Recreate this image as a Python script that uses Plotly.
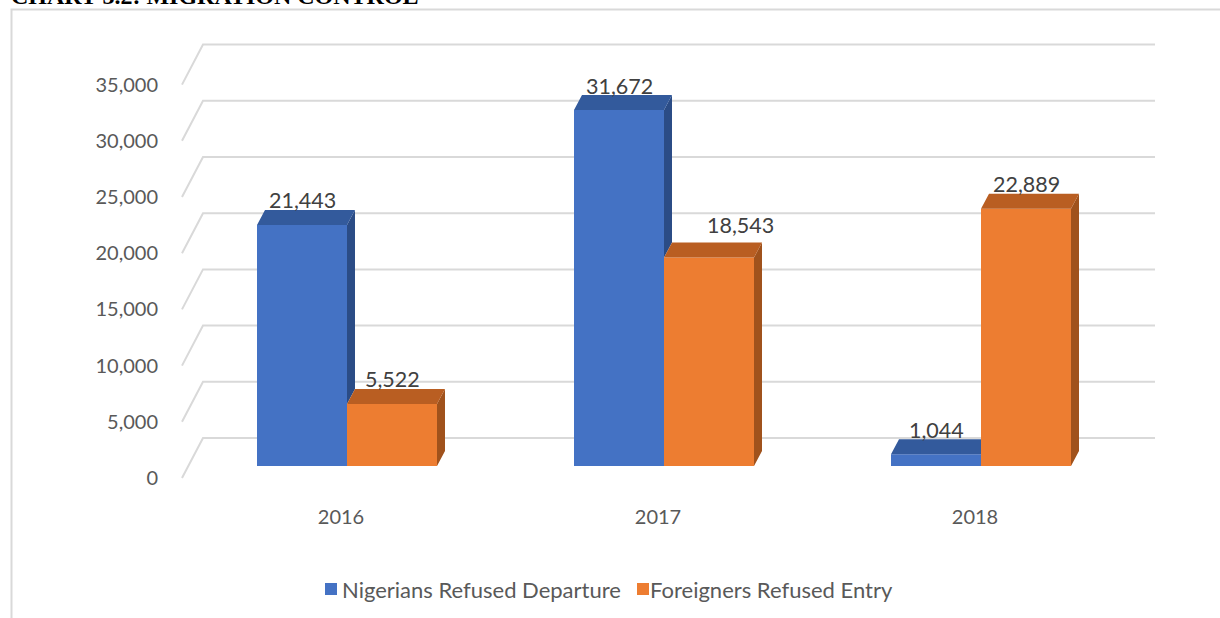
import plotly.graph_objects as go

# ---------------- data ----------------
CATEGORIES = ["2016", "2017", "2018"]
SERIES_NAMES = ["Nigerians Refused Departure", "Foreigners Refused Entry"]
NIGERIANS_REFUSED_DEPARTURE = [21443, 31672, 1044]
FOREIGNERS_REFUSED_ENTRY = [5522, 18543, 22889]
Y_TICKS = [0, 5000, 10000, 15000, 20000, 25000, 30000, 35000]
Y_TICK_LABELS = ["0", "5,000", "10,000", "15,000", "20,000", "25,000", "30,000", "35,000"]
TITLE = "CHART 3.2: MIGRATION CONTROL"

# ---------------- style / geometry ----------------
W, H = 1220, 618
ML, MR, MT, MB = 165, 55, 30, 128
PLOT_W = W - ML - MR
PLOT_H = H - MT - MB
PX_PER_CAT = 317.0            # pixels per category step
PX_PER_UNIT = 56.2 / 5000.0   # pixels per value unit
CAT0_PX = 347.0               # pixel x of first category centre (absolute)
ZERO_PX = 466.0               # pixel y of value 0 on the bar plane (absolute)

def ux(px):
    return px / PX_PER_CAT

def uy(px):
    return px / PX_PER_UNIT

BAR_W = ux(90)
DEPTH_X = ux(8)
DEPTH_Y = uy(15)
BACK_DY = uy(28)     # back wall offset above bar plane
FRONT_DY = uy(12)    # front floor edge offset below bar plane
GRID_LEFT_BACK = ux(203 - CAT0_PX)
GRID_LEFT_FRONT = ux(182 - CAT0_PX)
GRID_RIGHT = ux(1155 - CAT0_PX)
XTICK_SHIFT = ux(6)

COLORS = {
    "front": ["#4472C4", "#ED7D31"],
    "top": ["#335A9C", "#B95E22"],
    "side": ["#2B4C86", "#A0521C"],
}
GRID_COLOR = "#D9D9D9"
AXIS_FONT = dict(family="Lato", size=20, color="#595959")
LABEL_FONT = dict(family="Lato", size=21.5, color="#404040")
LEGEND_FONT = dict(family="Lato", size=22, color="#595959")
LEGEND_SWATCH_X = [325, 637]   # px, left edge of each legend square
LEGEND_TEXT_X = [340, 648]     # px, left edge of each legend text box
LEGEND_Y = 589                 # px, centre line of legend row
SWATCH = 12

X_RANGE = [ux(ML - CAT0_PX), ux(ML + PLOT_W - CAT0_PX)]
Y_RANGE = [-uy(MT + PLOT_H - ZERO_PX), uy(ZERO_PX - MT)]

def paper_x(px):
    return (px - ML) / PLOT_W

def paper_y(py):
    return (MT + PLOT_H - py) / PLOT_H

series = [NIGERIANS_REFUSED_DEPARTURE, FOREIGNERS_REFUSED_ENTRY]
xpos = list(range(len(CATEGORIES)))

fig = go.Figure()

# front faces (real bars)
for s, vals in enumerate(series):
    fig.add_trace(go.Bar(
        x=xpos, y=vals, name=SERIES_NAMES[s],
        width=[BAR_W] * len(vals),
        offset=[-BAR_W if s == 0 else 0.0] * len(vals),
        marker=dict(color=COLORS["front"][s], line=dict(width=0)),
        hovertemplate="%{y:,}<extra>" + SERIES_NAMES[s] + "</extra>",
        showlegend=False,
    ))

def poly_trace(xs, ys, color):
    return go.Scatter(x=xs, y=ys, mode="lines", fill="toself", fillcolor=color,
                      line=dict(width=0, color=color), hoverinfo="skip",
                      showlegend=False)

# 3D faces: blue side (visible part), blue top, orange side, orange top
bs_x, bs_y, bt_x, bt_y, os_x, os_y, ot_x, ot_y = ([] for _ in range(8))
for i, c in enumerate(xpos):
    vb = NIGERIANS_REFUSED_DEPARTURE[i]
    vo = FOREIGNERS_REFUSED_ENTRY[i]
    if vb > vo:
        bs_x += [c, c, c + DEPTH_X, c + DEPTH_X, c, None]
        bs_y += [vo, vb, vb + DEPTH_Y, vo + DEPTH_Y, vo, None]
        bt_x += [c - BAR_W, c, c + DEPTH_X, c - BAR_W + DEPTH_X, c - BAR_W, None]
        bt_y += [vb, vb, vb + DEPTH_Y, vb + DEPTH_Y, vb, None]
    else:
        bt_x += [c - BAR_W, c, c, c - BAR_W + DEPTH_X, c - BAR_W, None]
        bt_y += [vb, vb, vb + DEPTH_Y, vb + DEPTH_Y, vb, None]
    os_x += [c + BAR_W, c + BAR_W, c + BAR_W + DEPTH_X, c + BAR_W + DEPTH_X, c + BAR_W, None]
    os_y += [0, vo, vo + DEPTH_Y, DEPTH_Y, 0, None]
    ot_x += [c, c + BAR_W, c + BAR_W + DEPTH_X, c + DEPTH_X, c, None]
    ot_y += [vo, vo, vo + DEPTH_Y, vo + DEPTH_Y, vo, None]

fig.add_trace(poly_trace(bs_x, bs_y, COLORS["side"][0]))
fig.add_trace(poly_trace(bt_x, bt_y, COLORS["top"][0]))
fig.add_trace(poly_trace(os_x, os_y, COLORS["side"][1]))
fig.add_trace(poly_trace(ot_x, ot_y, COLORS["top"][1]))

# back-wall gridlines with the 3D floor diagonal
shapes = []
for v in Y_TICKS:
    shapes.append(dict(
        type="path", xref="x", yref="y", layer="below",
        path=f"M {GRID_LEFT_FRONT},{v - FRONT_DY} L {GRID_LEFT_BACK},{v + BACK_DY} L {GRID_RIGHT},{v + BACK_DY}",
        line=dict(color=GRID_COLOR, width=2),
    ))

# outer chart border (left and top edges visible)
shapes.append(dict(
    type="path", xref="paper", yref="paper", layer="above",
    path=f"M {paper_x(11.5)},{paper_y(H + 5)} L {paper_x(11.5)},{paper_y(9.5)} L {paper_x(W + 5)},{paper_y(9.5)}",
    line=dict(color=GRID_COLOR, width=2),
))

annotations = []

# legend (swatches + names)
for s, name in enumerate(SERIES_NAMES):
    shapes.append(dict(
        type="rect", xref="paper", yref="paper", layer="above",
        x0=paper_x(LEGEND_SWATCH_X[s]), x1=paper_x(LEGEND_SWATCH_X[s] + SWATCH),
        y0=paper_y(LEGEND_Y + SWATCH / 2), y1=paper_y(LEGEND_Y - SWATCH / 2),
        fillcolor=COLORS["front"][s], line=dict(width=0),
    ))
    annotations.append(dict(
        x=paper_x(LEGEND_TEXT_X[s]), y=paper_y(LEGEND_Y), xref="paper", yref="paper",
        text=name, showarrow=False, xanchor="left", yanchor="middle",
        font=LEGEND_FONT,
    ))

# data labels
LABEL_NUDGE = {(1, 1): (31, 8)}
for s, vals in enumerate(series):
    for i, v in enumerate(vals):
        cx = xpos[i] + (-BAR_W / 2 if s == 0 else BAR_W / 2)
        nx, ny = LABEL_NUDGE.get((s, i), (0, 0))
        annotations.append(dict(
            x=cx, y=v, xref="x", yref="y", text=f"{v:,}", showarrow=False,
            xanchor="center", yanchor="middle", xshift=nx, yshift=24.5 + ny,
            font=LABEL_FONT,
        ))

# title (cut off at the top edge like the source)
annotations.append(dict(
    x=paper_x(9), y=paper_y(11), xref="paper", yref="paper", text=f"<b>{TITLE}</b>",
    showarrow=False, xanchor="left", yanchor="bottom",
    font=dict(family="Liberation Serif", size=24, color="#000000"),
))

fig.update_layout(
    width=W, height=H,
    margin=dict(l=ML, r=MR, t=MT, b=MB, pad=0, autoexpand=False),
    paper_bgcolor="white", plot_bgcolor="white",
    barmode="overlay",
    shapes=shapes, annotations=annotations,
    showlegend=False,
    xaxis=dict(range=X_RANGE, showgrid=False, zeroline=False, showline=False,
               tickvals=[p - XTICK_SHIFT for p in xpos], ticktext=CATEGORIES,
               tickfont=AXIS_FONT, ticks="", fixedrange=True, ticklabelstandoff=13,
               automargin=False),
    yaxis=dict(range=Y_RANGE, showgrid=False, zeroline=False, showline=False,
               tickvals=[v - FRONT_DY for v in Y_TICKS], ticktext=Y_TICK_LABELS,
               tickfont=AXIS_FONT, ticks="", fixedrange=True, ticklabelstandoff=6,
               automargin=False),
)

fig.write_html("out.html", config={"displayModeBar": False},
               post_script="document.body.style.margin='0px';")
